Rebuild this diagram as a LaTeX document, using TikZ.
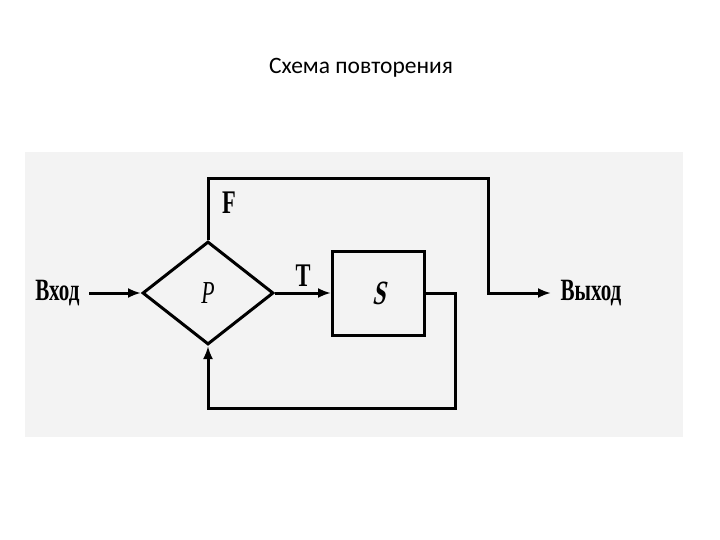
\documentclass[tikz,border=0pt]{standalone}
\usepackage{fontspec}
\setmainfont{Liberation Serif}
\newfontfamily\titlefont{Carlito}
\newfontfamily\scanfont[FakeStretch=0.68]{Liberation Serif}
\newfontfamily\scanslant[FakeStretch=0.68,FakeSlant=0.22]{Liberation Serif Bold}
\usetikzlibrary{arrows.meta,positioning,shapes.geometric}
\definecolor{scan}{HTML}{F3F3F3}

\begin{document}
\begin{tikzpicture}[x=1pt,y=-1pt,>={Latex[length=13pt,width=10pt]},line width=3pt,
  lbl/.style={font=\scanfont\fontsize{31}{33}\selectfont\bfseries,inner sep=8pt},
  branch/.style={font=\scanfont\fontsize{33}{35}\selectfont\bfseries,inner sep=1pt}]
\useasboundingbox (0,0) rectangle (720,540);
\fill[scan] (25,152) rectangle (683,437);
\node[font=\titlefont\fontsize{23.5}{25}\selectfont] (title) at (361,68) {Схема повторения};
\node[draw,diamond,minimum width=131pt,minimum height=103pt,inner sep=0pt,font=\scanfont\fontsize{32}{34}\selectfont\itshape] (p) at (208,293) {P};
\node[draw,right=56pt of p,minimum width=92pt,minimum height=84pt,font=\scanslant\fontsize{34}{36}\selectfont] (s) {S};
\node[lbl,left=52pt of p] (in) {Вход};
\node[lbl,right=125pt of s] (out) {Выход};
\coordinate (ftop) at (488,179);
\coordinate (loop) at (455,408);
\draw[->] (in)--(p.west);
\draw[->] (p.east)--node[branch,above=4pt] {T}(s.west);
\draw[->] (p.north)|-(ftop)|-(out.west);
\node[branch] (f) at (229,203) {F};
\draw[->] (s.east)-|(loop)-|(p.south);
\end{tikzpicture}
\end{document}
